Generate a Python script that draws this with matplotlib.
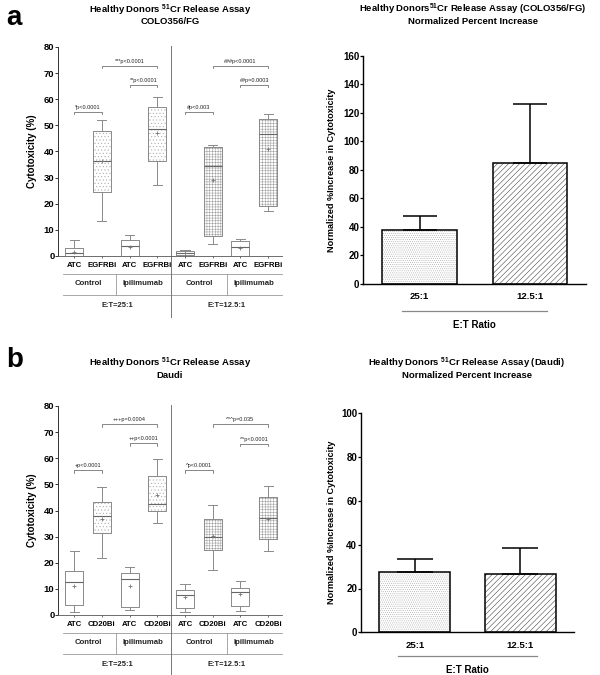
import matplotlib
matplotlib.use("Agg")
import matplotlib.pyplot as plt
import matplotlib.transforms as mtransforms
import numpy as np

plt.rcParams['font.family'] = ['Liberation Sans', 'DejaVu Sans']
plt.rcParams['font.weight'] = 'bold'
plt.rcParams['mathtext.fontset'] = 'custom'
plt.rcParams['mathtext.rm'] = 'Liberation Sans:bold'
plt.rcParams['mathtext.bf'] = 'Liberation Sans:bold'
plt.rcParams['mathtext.it'] = 'Liberation Sans:italic:bold'
plt.rcParams['hatch.linewidth'] = 0.35

# ---------------- data ----------------
groups_a = ['ATC', 'EGFRBi', 'ATC', 'EGFRBi', 'ATC', 'EGFRBi', 'ATC', 'EGFRBi']
groups_b = ['ATC', 'CD20Bi', 'ATC', 'CD20Bi', 'ATC', 'CD20Bi', 'ATC', 'CD20Bi']
arms = ['Control', 'Ipilimumab', 'Control', 'Ipilimumab']
ratios_a = ['E:T=25:1', 'E:T=12.5:1']

# panel a (COLO356/FG) box statistics
a_lo = [0.0, 13.5, 0.0, 27.0, 0.0, 4.6, 0.0, 17.1]
a_q1 = [0.0, 24.4, 0.0, 36.4, 0.3, 7.5, 0.0, 19.3]
a_med = [1.0, 36.5, 4.0, 48.5, 1.0, 34.6, 3.6, 46.6]
a_q3 = [3.0, 48.0, 6.0, 57.1, 2.0, 41.6, 5.7, 52.3]
a_hi = [6.0, 52.0, 8.2, 61.0, 2.3, 42.4, 6.4, 54.2]
a_mean = [1.5, 36.5, 3.3, 47.0, 1.3, 29.0, 3.0, 41.0]

# panel b (Daudi) box statistics
b_lo = [1.3, 21.7, 1.9, 35.1, 1.0, 17.2, 1.7, 24.5]
b_q1 = [3.8, 31.3, 2.9, 39.9, 2.6, 24.9, 3.4, 29.0]
b_med = [12.5, 38.0, 13.8, 42.5, 7.7, 30.0, 8.9, 37.2]
b_q3 = [16.8, 43.1, 15.9, 53.1, 9.6, 36.6, 10.5, 45.0]
b_hi = [24.5, 48.9, 18.5, 59.7, 12.0, 42.0, 13.0, 49.4]
b_mean = [11.2, 36.6, 11.1, 45.9, 6.8, 30.1, 7.9, 36.7]

# significance brackets (from group, to group, height, label)
sig_a_from = [1, 2, 3, 5, 6, 7]
sig_a_to = [2, 4, 4, 6, 8, 8]
sig_a_y = [55.2, 72.7, 65.5, 55.1, 72.7, 65.6]
sig_a_txt = ['*p<0.0001', '***p<0.0001', '**p<0.0001', '#p<0.003', '###p<0.0001', '##p=0.0003']
sig_b_from = [1, 2, 3, 5, 6, 7]
sig_b_to = [2, 4, 4, 6, 8, 8]
sig_b_y = [55.4, 73.0, 65.7, 55.4, 73.0, 65.6]
sig_b_txt = ['+p<0.0001', '+++p=0.0004', '++p<0.0001', '^p<0.0001', '^^^p=0.035', '^^p<0.0001']

# normalized percent increase bars
ratio_labels = ['25:1', '12.5:1']
na_mean = [37.7, 84.8]
na_err = [9.9, 41.3]
nb_mean = [27.4, 26.8]
nb_err = [6.2, 11.6]

# ---------------- figure ----------------
W, H = 600, 675
fig = plt.figure(figsize=(W / 100, H / 100), dpi=100)


def rect(l, t, r, b):
    return [l / W, 1 - b / H, (r - l) / W, (b - t) / H]


def fy(y):
    return 1 - y / H


def title2(x, y1, y2, l1, l2, size):
    fig.text(x / W, fy(y1), l1, ha='center', va='center', fontsize=size,
             fontweight='bold')
    fig.text(x / W, fy(y2), l2, ha='center', va='center', fontsize=size,
             fontweight='bold')


GRAY = '#8a8a8a'
HATCHES = [None, '.....', None, '.....', None, '++++++', None, '++++++']
HCOLORS = ['white', '#a8a8a8', 'white', '#a8a8a8', 'white', '#9a9a9a', 'white', '#9a9a9a']


def box_panel(ax_rect, lo, q1, med, q3, hi, mean, cats, sfrom, sto, sy, stxt,
              base, tl1, tl2, ty, ylab_y):
    ax = fig.add_axes(rect(*ax_rect))
    pos = np.arange(1, len(med) + 1)
    stats = []
    for i in range(len(med)):
        stats.append(dict(whislo=lo[i], q1=q1[i], med=med[i], q3=q3[i],
                          whishi=hi[i], mean=mean[i], fliers=[]))
    # hatched fills
    r = ax.bxp(stats, positions=pos, widths=0.65, patch_artist=True,
               showfliers=False, showcaps=False, manage_ticks=False,
               boxprops=dict(facecolor='white', linewidth=0),
               whiskerprops=dict(linewidth=0), medianprops=dict(linewidth=0))
    for b, h, c in zip(r['boxes'], HATCHES, HCOLORS):
        b.set_edgecolor(c)
        if h:
            b.set_hatch(h)
        b.set_linewidth(0)
    # outlines
    ax.bxp(stats, positions=pos, widths=0.65, patch_artist=False,
           showfliers=False, showmeans=True, manage_ticks=False,
           capwidths=0.33,
           boxprops=dict(color=GRAY, linewidth=0.7),
           whiskerprops=dict(color=GRAY, linewidth=0.7),
           capprops=dict(color=GRAY, linewidth=0.7),
           medianprops=dict(color='#666666', linewidth=0.8),
           meanprops=dict(marker='+', markeredgecolor='#777777',
                          markersize=3.5, markeredgewidth=0.6))
    ax.set_xlim(0.42, 8.5)
    ax.set_ylim(0, 80)
    ax.set_yticks(np.arange(0, 81, 10))
    ax.tick_params(axis='y', labelsize=6.8, length=2, width=0.7, pad=0.6,
                   color='#333333')
    ax.set_xticks(pos)
    ax.set_xticklabels(cats)
    ax.tick_params(axis='x', labelsize=5.6, length=1.6, width=0.6, pad=2.5,
                   color='#555555')
    for lab in ax.get_xticklabels() + ax.get_yticklabels():
        lab.set_fontweight('bold')
    for s in ['top', 'right']:
        ax.spines[s].set_visible(False)
    ax.spines['left'].set_color('#333333')
    ax.spines['left'].set_linewidth(0.7)
    ax.spines['bottom'].set_color('#555555')
    ax.spines['bottom'].set_linewidth(0.6)

    # significance brackets
    for x1, x2, yy, t in zip(sfrom, sto, sy, stxt):
        ax.plot([x1, x1, x2, x2], [yy - 0.9, yy, yy, yy - 0.9], color='#666666',
                lw=0.55, clip_on=False)
        ax.text((x1 + x2) / 2, yy + 0.8, t, ha='center', va='bottom',
                fontsize=4.0, fontweight='normal', color='#222222')

    # below-axis annotation
    tr = mtransforms.blended_transform_factory(ax.transData, fig.transFigure)
    kw = dict(transform=tr, clip_on=False, color='#999999', lw=0.6)
    ax.plot([0.6, 8.5], [fy(base + 18)] * 2, **kw)
    ax.plot([0.6, 8.5], [fy(base + 39)] * 2, **kw)
    for xs in [2.5, 6.5]:
        ax.plot([xs, xs], [fy(base + 18), fy(base + 39)], **kw)
    ax.plot([4.5, 4.5], [fy(base - 210), fy(base + 61)], transform=tr,
            clip_on=False, color='#777777', lw=0.7)
    for xc, t in zip([1.5, 3.5, 5.5, 7.5], arms):
        ax.text(xc, fy(base + 27.3), t, transform=tr, ha='center', va='center',
                fontsize=5.6, fontweight='bold', color='#222222')
    for xc, t in zip([2.55, 6.5], ratios_a):
        ax.text(xc, fy(base + 49.5), t, transform=tr, ha='center', va='center',
                fontsize=5.4, fontweight='bold', color='#222222')
    title2(170, ty[0], ty[1], tl1, tl2, 6.8)
    fig.text(32 / W, fy(ylab_y), 'Cytotoxicity (%)', rotation=90,
             ha='center', va='center', fontsize=7, fontweight='bold')
    return ax


box_panel((58, 47, 282, 256), a_lo, a_q1, a_med, a_q3, a_hi, a_mean, groups_a,
          sig_a_from, sig_a_to, sig_a_y, sig_a_txt, 256,
          'Healthy Donors $^{51}$Cr Release Assay', 'COLO356/FG', (10, 21.8), 151.5)
box_panel((58, 406, 282, 615), b_lo, b_q1, b_med, b_q3, b_hi, b_mean, groups_b,
          sig_b_from, sig_b_to, sig_b_y, sig_b_txt, 615,
          'Healthy Donors $^{51}$Cr Release Assay', 'Daudi', (363, 375.3), 510)


def bar_panel(ax_rect, means, errs, ymax, ystep, capsize, tl1, tl2, tx, ty,
              under_y, ylab_xy):
    ax = fig.add_axes(rect(*ax_rect))
    x = np.arange(len(means))
    w = 0.675
    fills = ax.bar(x, means, width=w, color='white', linewidth=0)
    fills[0].set_hatch('........')
    fills[0].set_edgecolor('#a8a8a8')
    fills[1].set_hatch('//////')
    fills[1].set_edgecolor('#303030')
    ax.bar(x, means, width=w, facecolor='none', edgecolor='black', linewidth=1.1)
    ax.errorbar(x, means, yerr=[np.zeros(len(errs)), errs], fmt='none',
                ecolor='black', elinewidth=1.1, capsize=capsize, capthick=1.1)
    ax.set_xlim(-0.51, 1.51)
    ax.set_ylim(0, ymax)
    ax.set_yticks(np.arange(0, ymax + 1, ystep))
    ax.set_xticks(x)
    ax.set_xticklabels(ratio_labels)
    ax.tick_params(axis='y', labelsize=7, length=2.2, width=0.9, pad=0.6)
    ax.tick_params(axis='x', labelsize=6.8, length=0, pad=6)
    for lab in ax.get_xticklabels() + ax.get_yticklabels():
        lab.set_fontweight('bold')
    for s in ['top', 'right']:
        ax.spines[s].set_visible(False)
    for s in ['left', 'bottom']:
        ax.spines[s].set_linewidth(1.0)
    tr = mtransforms.blended_transform_factory(ax.transData, fig.transFigure)
    ax.plot([-0.155, 1.155], [fy(under_y)] * 2, transform=tr, clip_on=False,
            color='#888888', lw=0.9)
    ax.text(0.5, fy(under_y + 14), 'E:T Ratio', transform=tr, ha='center',
            va='center', fontsize=7, fontweight='bold')
    title2(tx, ty[0], ty[1], tl1, tl2, 6.8)
    fig.text(ylab_xy[0] / W, fy(ylab_xy[1]),
             'Normalized %Increase in Cytotoxicity', rotation=90, ha='center',
             va='center', fontsize=6.6, fontweight='bold')
    return ax


bar_panel((363.3, 56, 586, 283.7), na_mean, na_err, 160, 20, 12,
          'Healthy Donors$^{51}$Cr Release Assay (COLO356/FG)',
          'Normalized Percent Increase', 473, (9.5, 22), 310.7, (331.7, 170))
bar_panel((361, 413.3, 574.3, 632.3), nb_mean, nb_err, 100, 20, 13,
          'Healthy Donors $^{51}$Cr Release Assay (Daudi)',
          'Normalized Percent Increase', 467, (363, 375.5), 656, (331.7, 522))

fig.text(6 / W, fy(25), 'a', fontsize=20, fontweight='bold', va='baseline')
fig.text(6 / W, fy(367), 'b', fontsize=20, fontweight='bold', va='baseline')

fig.savefig('out.png', dpi=100)
